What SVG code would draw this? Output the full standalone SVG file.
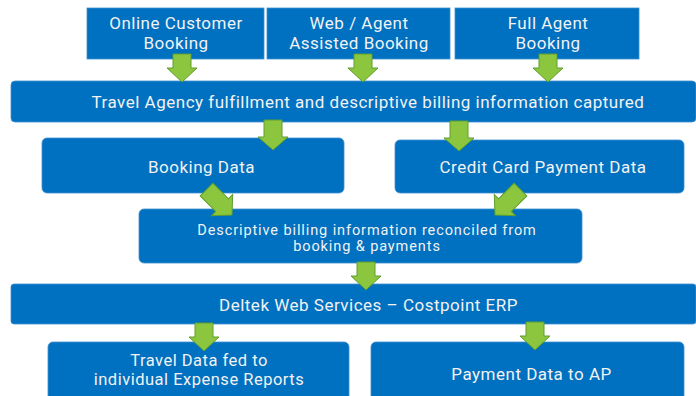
<svg xmlns="http://www.w3.org/2000/svg" width="696" height="396" viewBox="0 0 696 396">
<defs>
<style>
.box{fill:#0070c0;stroke:#3d8fd1;stroke-width:0.8}
.t{font-family:Roboto,"Liberation Sans",sans-serif;fill:#f2f2f2;text-anchor:middle}
.big{font-size:17px;letter-spacing:0.5px}
.mid{font-size:16.5px;letter-spacing:0.5px}
.sm{font-size:14.5px;letter-spacing:0.9px}
.arr{fill:#8cc63f;stroke:#5e9e2e;stroke-width:1;stroke-linejoin:miter}
</style>
<path id="dn" d="M -9,-28 L 9,-28 L 9,-14 L 15,-14 L 0,0 L -15,-14 L -9,-14 Z"/>
<path id="dn30" d="M -9,-30 L 9,-30 L 9,-13 L 15,-13 L 0,0 L -15,-13 L -9,-13 Z"/>
<path id="dg" d="M -9,-36 L 9,-36 L 9,-14 L 15,-14 L 0,0 L -15,-14 L -9,-14 Z"/>
</defs>
<rect width="696" height="396" fill="#ffffff"/>

<g id="online">
<rect class="box" x="87" y="8" width="177" height="51"/>
<text class="t big" x="176" y="29">Online Customer</text>
<text class="t big" x="176" y="49">Booking</text>
</g>
<g id="web">
<rect class="box" x="267" y="8" width="183" height="51"/>
<text class="t big" x="359" y="29">Web / Agent</text>
<text class="t big" x="359" y="49">Assisted Booking</text>
</g>
<g id="full">
<rect class="box" x="455" y="8" width="184" height="51"/>
<text class="t big" x="548" y="29">Full Agent</text>
<text class="t big" x="548" y="49">Booking</text>
</g>
<g id="agency">
<rect class="box" x="11" y="81" width="685" height="41" rx="4"/>
<text class="t big" x="368" y="108">Travel Agency fulfillment and descriptive billing information captured</text>
</g>
<g id="booking">
<rect class="box" x="42" y="138" width="302" height="55" rx="5"/>
<text class="t big" x="201.5" y="173">Booking Data</text>
</g>
<g id="credit">
<rect class="box" x="395" y="140" width="289" height="53" rx="5"/>
<text class="t big" x="543" y="173">Credit Card Payment Data</text>
</g>
<g id="reconcile">
<rect class="box" x="139" y="209" width="443" height="54" rx="5"/>
<text class="t sm" x="367" y="235">Descriptive billing information reconciled from</text>
<text class="t sm" x="367" y="251">booking &amp; payments</text>
</g>
<g id="deltek">
<rect class="box" x="11" y="284" width="685" height="40" rx="3"/>
<text class="t big" x="368.5" y="311">Deltek Web Services – Costpoint ERP</text>
</g>
<g id="travel">
<rect class="box" x="48" y="342" width="301" height="62" rx="5"/>
<text class="t mid" x="199" y="366">Travel Data fed to</text>
<text class="t mid" x="199" y="385">individual Expense Reports</text>
</g>
<g id="payment">
<rect class="box" x="371" y="342" width="313" height="62" rx="5"/>
<text class="t big" x="531.5" y="380">Payment Data to AP</text>
</g>

<g id="connectors">
<use href="#dn" class="arr" transform="translate(182,82)"/>
<use href="#dn" class="arr" transform="translate(363,82)"/>
<use href="#dn" class="arr" transform="translate(548,82)"/>
<use href="#dn30" class="arr" transform="translate(273,150)"/>
<use href="#dn30" class="arr" transform="translate(459,151)"/>
<use href="#dg" class="arr" transform="translate(232,215) rotate(-45)"/>
<use href="#dg" class="arr" transform="translate(495,215) rotate(45)"/>
<use href="#dn" class="arr" transform="translate(366,290)"/>
<use href="#dn" class="arr" transform="translate(204,351)"/>
<use href="#dn" class="arr" transform="translate(535,350)"/>
</g>
</svg>
